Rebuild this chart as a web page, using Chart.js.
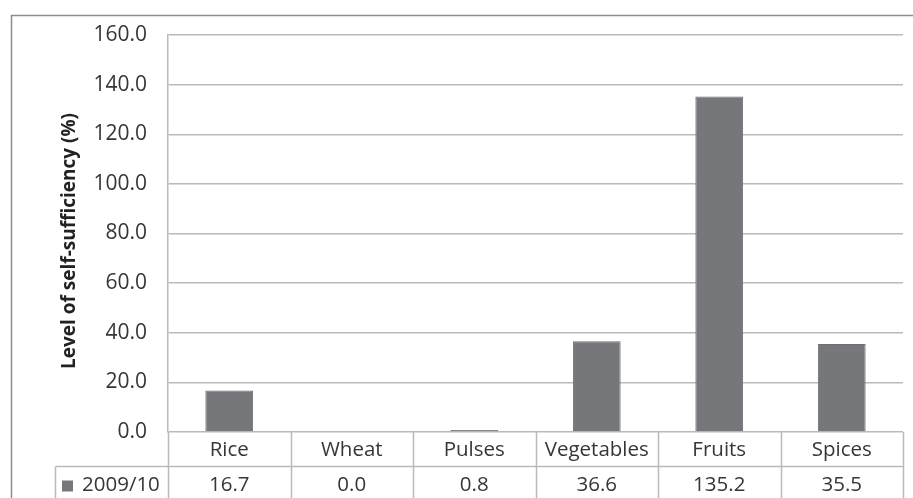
<!DOCTYPE html>
<html>
<head>
<meta charset="utf-8">
<script src="https://cdn.jsdelivr.net/npm/chart.js@4.4.1/dist/chart.umd.min.js"></script>
<style>
    html, body { margin: 0; padding: 0; background: #fff; overflow: hidden; }
    #wrap { position: relative; width: 913px; height: 498px; }
</style>
</head>
<body>
<div id="wrap"><canvas id="selfChart" width="913" height="498"></canvas></div>
<script>
// chart data
const categories = ['Rice', 'Wheat', 'Pulses', 'Vegetables', 'Fruits', 'Spices'];
const seriesLabel = '2009/10';
const sufficiency = [16.7, 0.0, 0.8, 36.6, 135.2, 35.5];
const yTicks = [0, 20, 40, 60, 80, 100, 120, 140, 160];
const yTitle = 'Level of self-sufficiency (%)';

const FONT = '"Open Sans", "Noto Sans", sans-serif';
const TEXT = '#363636';
const LINE = '#bababa';
const BAR = '#76777a';

// draws the outer frame, the axis title and the data table under the plot
const tablePlugin = {
    id: 'dataTable',
    afterDraw(chart) {
        const ctx = chart.ctx;
        const area = chart.chartArea;
        const xs = chart.scales.x;
        const half = (xs.getPixelForValue(1) - xs.getPixelForValue(0)) / 2;
        const row1 = area.bottom;
        const row2 = row1 + 34.5;
        const bottom = chart.height + 5;
        const keyLeft = 55.5;

        ctx.save();
        // outer frame (cut off at right and bottom like the source)
        ctx.strokeStyle = '#8c8c8c';
        ctx.lineWidth = 1.5;
        ctx.beginPath();
        ctx.moveTo(11.5, chart.height + 2);
        ctx.lineTo(11.5, 15.5);
        ctx.lineTo(chart.width + 2, 15.5);
        ctx.stroke();

        // y axis title, sits a little below the axis centre in the source
        ctx.save();
        ctx.translate(70, 241);
        ctx.rotate(-Math.PI / 2);
        ctx.fillStyle = '#222';
        ctx.font = 'bold 19px ' + FONT;
        ctx.textAlign = 'center';
        ctx.textBaseline = 'middle';
        ctx.fillText(yTitle, 0, 0);
        ctx.restore();

        // table grid
        ctx.strokeStyle = LINE;
        ctx.lineWidth = 1.5;
        ctx.beginPath();
        ctx.moveTo(keyLeft, row2);
        ctx.lineTo(area.right, row2);
        ctx.moveTo(keyLeft, row2);
        ctx.lineTo(keyLeft, bottom);
        for (let i = 0; i <= categories.length; i++) {
            const x = i < categories.length ? xs.getPixelForValue(i) - half : xs.getPixelForValue(i - 1) + half;
            ctx.moveTo(Math.round(x) + 0.5, row1);
            ctx.lineTo(Math.round(x) + 0.5, bottom);
        }
        ctx.stroke();

        // category and value text
        ctx.fillStyle = TEXT;
        ctx.font = '20.5px ' + FONT;
        ctx.textAlign = 'center';
        ctx.textBaseline = 'middle';
        categories.forEach((c, i) => {
            const x = xs.getPixelForValue(i);
            ctx.fillText(c, x, row1 + 18);
            ctx.fillText(sufficiency[i].toFixed(1), x, row2 + 19);
        });

        // legend key
        ctx.fillStyle = BAR;
        ctx.fillRect(62, row2 + 14, 11, 11);
        ctx.fillStyle = TEXT;
        ctx.textAlign = 'left';
        ctx.fillText(seriesLabel, 82, row2 + 19);
        ctx.restore();
    }
};

new Chart(document.getElementById('selfChart'), {
    type: 'bar',
    data: {
        labels: categories,
        datasets: [{
            label: seriesLabel,
            data: sufficiency,
            backgroundColor: BAR,
            borderColor: '#6c6d70',
            borderWidth: 1,
            categoryPercentage: 1,
            barPercentage: 0.39
        }]
    },
    options: {
        responsive: false,
        animation: false,
        layout: { padding: { left: 0, top: 35, right: 10, bottom: 66 } },
        plugins: {
            legend: { display: false },
            tooltip: { enabled: false }
        },
        scales: {
            x: { display: false },
            y: {
                min: 0,
                max: 160,
                afterBuildTicks: scale => { scale.ticks = yTicks.map(v => ({ value: v })); },
                afterFit: scale => { scale.width = 168; },
                ticks: {
                    padding: 21,
                    color: TEXT,
                    font: { family: FONT, size: 21 },
                    callback: v => v.toFixed(1)
                },
                grid: { color: LINE, lineWidth: 1.5, drawTicks: false },
                border: { color: LINE, width: 1.5 }
            }
        }
    },
    plugins: [tablePlugin]
});
</script>
</body>
</html>
